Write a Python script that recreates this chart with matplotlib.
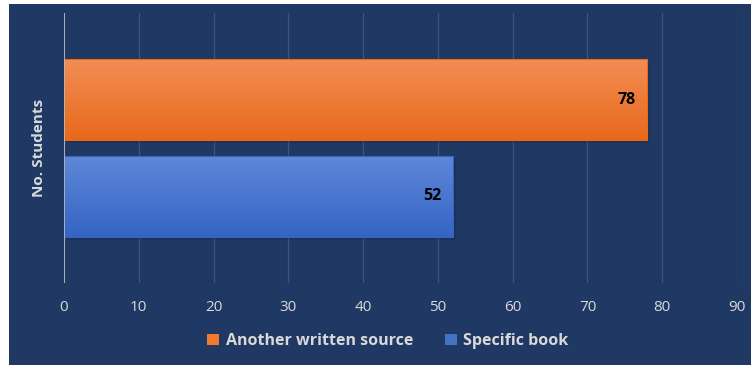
import numpy as np
import matplotlib.pyplot as plt
from matplotlib.patches import Rectangle, Patch
from matplotlib.colors import LinearSegmentedColormap
import matplotlib.transforms as mtransforms

# Survey answers: where students got their material
series = ['Another written source', 'Specific book']
values = [78, 52]
ylabel = 'No. Students'
xticks = [0, 10, 20, 30, 40, 50, 60, 70, 80, 90]

bg = '#203864'
grid_col = '#3B5283'
text_col = '#D9D9D9'
# (top colour, bottom colour) of each bar's gradient
fills = [('#F28D55', '#E8691B'), ('#5E88D8', '#3564C4')]
solid = ['#F07B2E', '#4472C4']

fig = plt.figure(figsize=(7.54, 3.67), dpi=100)
fig.patch.set_facecolor('white')
fig.patches.append(Rectangle((9 / 754, 1 - 365 / 367), 742 / 754, 361 / 367,
                             transform=fig.transFigure, facecolor=bg,
                             edgecolor='none', zorder=-10))

ax = fig.add_axes([64 / 754, 1 - 283 / 367, 673 / 754, 270 / 367])
ax.set_facecolor(bg)
ax.patch.set_alpha(0)

ypos = [1, 0]
height = 0.835

for x in xticks:
    ax.axvline(x, color=grid_col, lw=0.9, zorder=0)
ax.axvline(0, color='#BFBFBF', lw=1.2, zorder=5)

for y, v, (top, bot) in zip(ypos, values, fills):
    y0 = y - height / 2
    # soft drop shadow down and to the right
    for i, a in enumerate([0.12, 0.10, 0.08]):
        off = mtransforms.offset_copy(ax.transData, fig=fig, x=1 + i, y=-(1 + i), units='dots')
        ax.add_patch(Rectangle((0, y0), v, height, transform=off,
                               facecolor='black', alpha=a, edgecolor='none', zorder=1))
    cmap = LinearSegmentedColormap.from_list('bar', [top, bot])
    grad = np.linspace(0, 1, 100).reshape(-1, 1)
    ax.imshow(grad, cmap=cmap, aspect='auto', extent=(0, v, y0, y0 + height),
              origin='upper', zorder=2, interpolation='bilinear')
    ax.add_patch(Rectangle((0, y0), v, height, facecolor='none',
                           edgecolor=bot, lw=0.8, zorder=3))
    ax.text(v - 1.5, y, str(v), ha='right', va='center', fontsize=11.5,
            fontweight='bold', color='black', family='Open Sans', zorder=4)

ax.set_xlim(0, 90)
ax.set_ylim(-0.892, 1.892)
ax.set_xticks(xticks)
ax.set_xticklabels([str(t) for t in xticks], fontsize=11, color=text_col, family='Open Sans')
ax.tick_params(axis='x', length=0, pad=12)
ax.set_yticks([])
for s in ax.spines.values():
    s.set_visible(False)

fig.text(39 / 754, 1 - 148 / 367, ylabel, rotation=90, ha='center', va='center',
         fontsize=11, fontweight='bold', color=text_col, family='Open Sans')

handles = [Patch(facecolor=c, edgecolor='none') for c in solid]
leg = fig.legend(handles, series, loc='center', bbox_to_anchor=(388 / 754, 1 - 341 / 367),
                 ncol=2, frameon=False, handlelength=0.75, handleheight=0.75,
                 handletextpad=0.4, columnspacing=2.0,
                 prop={'family': 'Open Sans', 'weight': 'bold', 'size': 11.5})
for t in leg.get_texts():
    t.set_color(text_col)

fig.savefig('out.png', dpi=100, facecolor='white')
